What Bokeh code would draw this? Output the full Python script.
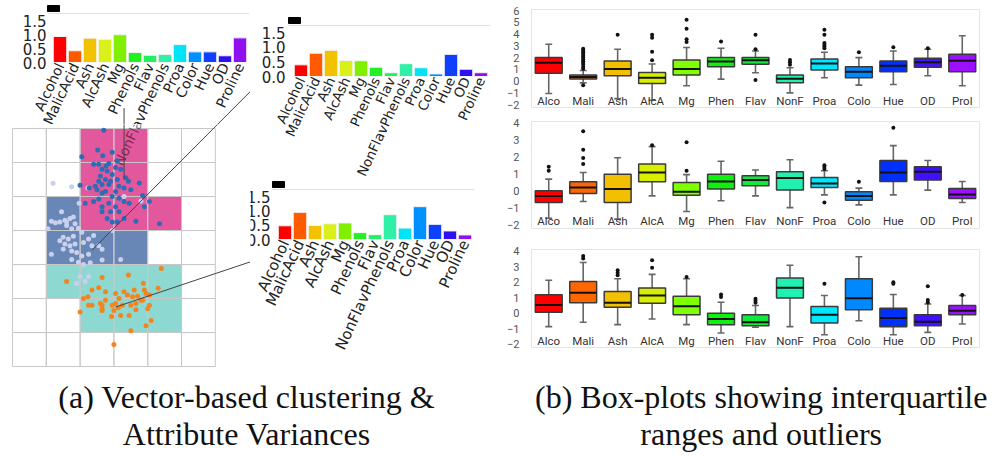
import numpy as np
from bokeh.plotting import figure
from bokeh.layouts import row, column
from bokeh.models import Div, ColumnDataSource, FixedTicker, Range1d
from bokeh.core.properties import value
from bokeh.embed import file_html
from bokeh.resources import INLINE

# ---------------- data ----------------
attributes = ["Alcohol", "MalicAcid", "Ash", "AlcAsh", "Mg", "Phenols", "Flav",
              "NonFlavPhenols", "Proa", "Color", "Hue", "OD", "Proline"]
attr_colors = ["#ff0000", "#ff5a00", "#f2c200", "#d9f01a", "#80f000", "#22f022", "#22f060",
               "#30f0a8", "#00e5f5", "#0090ff", "#1040ff", "#3010f0", "#9010f0"]
variance_pink = [0.93, 0.42, 0.87, 0.83, 0.99, 0.36, 0.26, 0.29, 0.64, 0.38, 0.38, 0.24, 0.88]
variance_blue = [0.40, 0.80, 0.90, 0.55, 0.54, 0.32, 0.13, 0.44, 0.30, 0.09, 0.76, 0.25, 0.13]
variance_orange = [0.48, 0.95, 0.49, 0.55, 0.58, 0.24, 0.17, 0.87, 0.40, 1.15, 0.53, 0.30, 0.16]
variance_ticks = [0.0, 0.5, 1.0, 1.5]

# scatter grid (cells of 100 units), 6 columns x 7 rows
grid_cols = 6
grid_rows = 7
pink_cells = [(2, 6), (3, 6), (2, 5), (3, 5), (2, 4), (3, 4), (4, 4)]
blue_cells = [(1, 4), (1, 3), (2, 3), (3, 3)]
teal_cells = [(1, 2), (2, 2), (3, 2), (4, 2), (2, 1), (3, 1), (4, 1)]

pink_pts_x = [270, 252, 205, 295, 267, 240, 255, 285, 310, 277, 265, 280, 305, 320, 295, 260, 275, 290, 310,
              335, 343, 285, 265, 245, 255, 227, 200, 315, 330, 375, 350, 305, 275, 265, 295, 255, 240, 315,
              330, 285, 305, 265, 385, 390, 345, 290, 315, 265, 365, 435, 330, 310, 405, 215, 280, 295, 250]
pink_pts_y = [695, 637, 617, 630, 620, 595, 595, 597, 605, 590, 580, 575, 585, 580, 565, 560, 550, 545, 550,
              555, 545, 535, 535, 530, 545, 525, 533, 530, 525, 540, 520, 515, 515, 510, 500, 493, 485, 495,
              485, 480, 470, 470, 503, 470, 480, 455, 455, 455, 427, 420, 435, 425, 485, 480, 435, 425, 520]

blue_pts_x = [120, 175, 223, 197, 145, 115, 127, 140, 155, 170, 180, 160, 185, 175, 195, 205, 150, 165, 180,
              140, 155, 170, 185, 210, 225, 240, 235, 255, 265, 115, 150, 175, 190, 205, 225, 175, 195, 210,
              230, 265, 320, 295, 330, 380, 403, 225, 200, 105, 190, 215, 160]
blue_pts_y = [539, 529, 525, 480, 455, 427, 423, 425, 430, 435, 440, 415, 420, 405, 407, 395, 380, 375, 383,
              370, 360, 355, 360, 365, 375, 385, 355, 355, 345, 330, 345, 340, 335, 325, 330, 315, 307, 300,
              305, 313, 315, 400, 500, 487, 485, 265, 265, 405, 245, 250, 425]

orange_pts_x = [440, 265, 343, 160, 387, 431, 255, 235, 275, 210, 223, 305, 330, 340, 360, 390, 395, 405,
                315, 355, 370, 380, 225, 235, 260, 265, 275, 305, 313, 325, 350, 365, 385, 405, 200, 265,
                300, 293, 320, 345, 365, 400, 410, 350, 395, 300, 265, 295]
orange_pts_y = [288, 262, 269, 250, 245, 230, 232, 225, 220, 200, 205, 215, 220, 210, 225, 225, 215, 210,
                200, 205, 207, 195, 180, 180, 185, 170, 195, 185, 173, 180, 180, 185, 195, 180, 160, 165,
                165, 147, 150, 150, 167, 170, 135, 105, 120, 65, 180, 180]

# leader lines: cluster anchor -> towards its variance chart (scatter units)
leader_x0 = [330, 235, 305]
leader_y0 = [550, 342, 175]
leader_x1 = [330, 800, 800]
leader_y1 = [760, 905, 340]

# box plots
box_names = ["Alco", "Mali", "Ash", "AlcA", "Mg", "Phen", "Flav", "NonF", "Proa", "Colo", "Hue", "OD", "Prol"]
box_colors = ["#ff0000", "#ff6600", "#f2c000", "#d8f000", "#80ff00", "#10f010", "#10e840",
              "#20f0b0", "#00e8ff", "#0088ff", "#0030ff", "#4010ff", "#9a10ff"]

p1_lo = [-1.06, -0.15, -1.49, -1.63, -0.40, 0.17, 0.71, -1.00, 0.29, -0.34, -0.29, 0.46, -0.40]
p1_q1 = [0.66, 0.17, 0.46, -0.20, 0.51, 1.23, 1.43, -0.14, 0.94, 0.29, 0.80, 1.17, 0.80]
p1_med = [1.57, 0.34, 1.03, 0.29, 1.03, 1.66, 1.77, 0.20, 1.49, 0.80, 1.31, 1.60, 1.74]
p1_q3 = [2.00, 0.51, 1.71, 0.74, 1.80, 2.00, 2.00, 0.51, 1.89, 1.23, 1.71, 1.94, 2.29]
p1_hi = [3.14, 0.90, 2.71, 1.46, 2.86, 2.80, 2.57, 1.14, 2.46, 2.00, 2.57, 2.71, 3.86]
p1_out = [[], [-0.35, 1.05, 1.2, 1.4, 1.55, 1.7, 1.85, 2.0, 2.15, 2.3, 2.45, 2.6, 2.75], [3.94],
          [1.77, 2.51, 3.69, 3.94], [3.34, 3.57, 4.46, 5.23], [3.37], [0.09, 2.72, 3.94], [1.4, 1.6, 1.8],
          [2.8, 2.95, 3.1, 3.25, 3.94, 4.37], [2.46], [2.89], [2.8], []]

p2_lo = [-1.60, -0.61, -1.65, -0.28, -1.20, -0.57, -0.28, -0.97, -0.22, -0.81, -0.22, 0.06, -0.67]
p2_q1 = [-0.67, -0.14, -0.67, 0.55, -0.24, 0.12, 0.32, 0.06, 0.22, -0.53, 0.57, 0.65, -0.43]
p2_med = [-0.28, 0.22, 0.12, 1.10, -0.04, 0.57, 0.65, 0.77, 0.45, -0.28, 1.10, 1.14, -0.20]
p2_q3 = [0.02, 0.55, 1.00, 1.60, 0.51, 1.00, 0.91, 1.14, 0.81, -0.04, 1.80, 1.44, 0.16]
p2_hi = [0.71, 1.10, 1.97, 2.62, 0.97, 1.76, 1.24, 1.85, 1.20, 0.18, 2.68, 1.80, 0.57]
p2_out = [[1.2, 1.44], [1.6, 1.95, 2.43, 3.53], [], [2.7], [1.2, 2.88], [], [], [],
          [-0.67, 1.3, 1.42, 1.52], [0.55], [3.73], [], []]

p3_lo = [-0.86, -0.58, -0.73, -0.37, -0.73, -1.27, -0.90, -0.86, -1.38, -0.48, -1.38, -1.23, -0.69]
p3_q1 = [0.06, 0.67, 0.39, 0.65, -0.09, -0.73, -0.80, 0.99, -0.63, 0.22, -0.86, -0.80, -0.09]
p3_med = [0.54, 1.32, 0.67, 1.14, 0.45, -0.37, -0.58, 1.64, -0.09, 0.97, -0.30, -0.54, 0.17]
p3_q3 = [1.19, 2.05, 1.40, 1.62, 1.10, 0.00, -0.09, 2.27, 0.43, 2.22, 0.32, -0.09, 0.50]
p3_hi = [2.12, 3.26, 2.22, 2.50, 2.22, 0.71, 0.50, 3.09, 1.14, 3.63, 1.21, 0.60, 1.14]
p3_out = [[], [3.52, 3.69], [2.44, 2.6, 2.76], [2.92, 3.41], [2.33], [1.05, 1.2], [0.67, 0.8, 0.93],
          [], [1.9], [], [1.9, 2.0], [0.7, 0.85, 1.73], [1.18]]

FONT = value("DejaVu Sans")
LABEL_ANGLE = np.deg2rad(65)
STEP = 15.0          # px per bar slot
LBL_Y = -0.05        # label anchor just below the bar baseline


def base_fig(w, h, xr, yr, **kw):
    p = figure(width=w, height=h, x_range=xr, y_range=yr, output_backend="svg",
               toolbar_location=None, **kw)
    p.grid.visible = False
    return p


def bar_panel(values, w, h, c0, baseline, top, tick_right, sw_l, sw_r, lbl_size="15px"):
    ppu = (baseline - top) / 1.75
    p = base_fig(w, h, Range1d(-c0 / STEP, (w - c0) / STEP),
                 Range1d(-(h - baseline) / ppu, baseline / ppu), min_border=0)
    p.axis.visible = False
    p.outline_line_color = None
    idx = np.arange(len(attributes))
    src = ColumnDataSource(dict(x=idx, top=values, color=attr_colors, name=attributes))
    p.segment(x0=(sw_l - c0) / STEP, y0=1.75, x1=12.6, y1=1.75, line_color="#e0e0e0", line_width=1)
    p.vbar(x="x", top="top", bottom=0, width=0.9, fill_color="color", line_color="#f4f4f4",
           line_width=1, source=src)
    p.text(x="x", y=LBL_Y, text="name", angle=LABEL_ANGLE, text_align="right",
           text_baseline="middle", text_font=FONT, text_font_size=lbl_size, text_color="#222",
           source=src)
    p.text(x=(tick_right - c0) / STEP, y=variance_ticks,
           text=["%.1f" % t for t in variance_ticks], text_align="right", text_baseline="middle",
           text_font=FONT, text_font_size="15px", text_color="#222")
    p.quad(left=(sw_l - c0) / STEP, right=(sw_r - c0) / STEP,
           bottom=1.75 + 2 / ppu, top=1.75 + 8 / ppu, fill_color="black", line_color="black")
    return p, ppu


A_W, A_H, A_C0, A_BASE = 250, 124, 59.5, 62
A_LBL = "14px"
barA, A_PPU = bar_panel(variance_pink, A_W, A_H, A_C0, A_BASE, 13, 46, 47, 59, A_LBL)
barB, _ = bar_panel(variance_blue, 243, 180, 50.5, 76, 25, 35, 38, 50, "13.5px")
barC, _ = bar_panel(variance_orange, 243, 188, 34.5, 59, 9, 20, 22, 34)

# ---------------- scatter ----------------
SC_W, SC_H = 250, 244
SC_X = (-35.5, 704.0)
SC_Y = (-5.8, 711.8)
sc = base_fig(SC_W, SC_H, Range1d(*SC_X), Range1d(*SC_Y), min_border=0)
sc.axis.visible = False
sc.outline_line_color = None


def to_sc(px, py):
    """screen px of the stacked column (barA on top) -> scatter data units"""
    sx = SC_X[0] + px * (SC_X[1] - SC_X[0]) / SC_W
    sy = SC_Y[1] - (py - A_H) * (SC_Y[1] - SC_Y[0]) / SC_H
    return sx, sy


def cells_quad(cells, color):
    sc.quad(left=[c * 100 for c, r in cells], right=[(c + 1) * 100 for c, r in cells],
            bottom=[r * 100 for c, r in cells], top=[(r + 1) * 100 for c, r in cells],
            fill_color=color, line_color=None)


cells_quad(pink_cells, "#e3579c")
cells_quad(blue_cells, "#6887b7")
cells_quad(teal_cells, "#8ed8d2")
gc, gr = np.meshgrid(np.arange(grid_cols), np.arange(grid_rows))
sc.quad(left=(gc * 100).ravel(), right=((gc + 1) * 100).ravel(), bottom=(gr * 100).ravel(),
        top=((gr + 1) * 100).ravel(), fill_color=None, line_color="#c8c8c8", line_width=1)

# the long rotated label of bar chart A runs on into the scatter area
nf = attributes.index("NonFlavPhenols")
nf_x, nf_y = to_sc(A_C0 + nf * STEP, A_BASE - LBL_Y * A_PPU)
sc.text(x=[nf_x], y=[nf_y], text=[attributes[nf]], angle=LABEL_ANGLE, text_align="right",
        text_baseline="middle", text_font=FONT, text_font_size=A_LBL, text_color="#3a0a24",
        text_alpha=0.6)

sc.scatter(blue_pts_x, blue_pts_y, size=5, color="#c9d0ec", line_color=None)
sc.scatter(pink_pts_x, pink_pts_y, size=5, color="#2d6db5", line_color=None)
sc.scatter(orange_pts_x, orange_pts_y, size=5, color="#f2851f", line_color=None)
sc.segment(x0=leader_x0, y0=leader_y0, x1=leader_x1, y1=leader_y1, line_color="#444444", line_width=1)


# leaders continue up into bar chart A (same lines, converted to A's units)
def sc_to_a(sx, sy):
    px = (sx - SC_X[0]) * SC_W / (SC_X[1] - SC_X[0])
    py = A_H + (SC_Y[1] - sy) * SC_H / (SC_Y[1] - SC_Y[0])
    return (px - A_C0) / STEP, (A_BASE - py) / A_PPU


for i in range(2):
    ax0, ay0 = sc_to_a(leader_x0[i], leader_y0[i])
    ax1, ay1 = sc_to_a(leader_x1[i], leader_y1[i])
    barA.segment(x0=[ax0], y0=[ay0], x1=[ax1], y1=[ay1], line_color="#444444", line_width=1)

# ---------------- box plots ----------------


def box_panel(h, bt, bb, y0, y1, ticks, lo, q1, med, q3, hi, outs, label_y):
    p = base_fig(488, h, Range1d(-0.5, 12.5), Range1d(y0, y1), min_border_left=38,
                 min_border_right=2, min_border_top=bt, min_border_bottom=bb)
    p.xaxis.visible = False
    p.yaxis.ticker = FixedTicker(ticks=ticks)
    p.yaxis.axis_line_color = None
    p.yaxis.major_tick_line_color = None
    p.yaxis.minor_tick_line_color = None
    p.yaxis.major_label_text_font = "Roboto"
    p.yaxis.major_label_text_font_size = "11px"
    p.yaxis.major_label_text_color = "#555555"
    p.yaxis.major_label_standoff = 6
    p.outline_line_color = "#e4e4e4"
    idx = np.arange(len(box_names))
    lo, q1, med, q3, hi = map(np.asarray, (lo, q1, med, q3, hi))
    p.segment(x0=idx, y0=lo, x1=idx, y1=hi, line_color="#666666", line_width=1.6)
    p.segment(x0=idx - 0.1, y0=lo, x1=idx + 0.1, y1=lo, line_color="#666666", line_width=1.6)
    p.segment(x0=idx - 0.1, y0=hi, x1=idx + 0.1, y1=hi, line_color="#666666", line_width=1.6)
    p.vbar(x=idx, bottom=q1, top=q3, width=0.78, fill_color=box_colors, line_color="#3a3a3a",
           line_width=1.5)
    p.segment(x0=idx - 0.39, y0=med, x1=idx + 0.39, y1=med, line_color="#111111", line_width=2)
    ox = [i for i, o in enumerate(outs) for _ in o]
    oy = [v for o in outs for v in o]
    p.scatter(ox, oy, size=4, color="#111111", line_color=None)
    p.text(x=idx, y=label_y, text=box_names, text_align="center", text_baseline="middle",
           text_font=value("Roboto"), text_font_size="11.5px", text_color="#333333")
    return p


box1 = box_panel(113, 9, 6, -2.25, 6.1, list(range(-2, 7)), p1_lo, p1_q1, p1_med, p1_q3, p1_hi,
                 p1_out, -1.7)
box2 = box_panel(120, 8, 5, -2.2, 4.1, list(range(-2, 5)), p2_lo, p2_q1, p2_med, p2_q3, p2_hi,
                 p2_out, -1.75)
box3 = box_panel(135, 16, 21, -2.2, 4.1, list(range(-2, 5)), p3_lo, p3_q1, p3_med, p3_q3, p3_hi,
                 p3_out, -1.75)

cap_base = {"font-family": "'Liberation Serif', 'Times New Roman', serif", "font-size": "32px",
            "line-height": "37px", "text-align": "center", "color": "#111111",
            "padding-top": "11px", "overflow": "visible", "white-space": "nowrap"}
capA = Div(text="(a) Vector-based clustering &amp;<br>Attribute Variances", width=493, height=79,
           margin=0, styles=cap_base)
capB = Div(text="(b) Box-plots showing interquartile<br>ranges and outliers", width=488, height=79,
           margin=0, styles=dict(cap_base, **{"padding-left": "42px"}))

left = column(row(column(barA, sc), column(barB, barC)), capA)
right = column(box1, box2, box3, capB)
page = row(left, right)

open("out.html", "w").write(file_html(page, INLINE))
